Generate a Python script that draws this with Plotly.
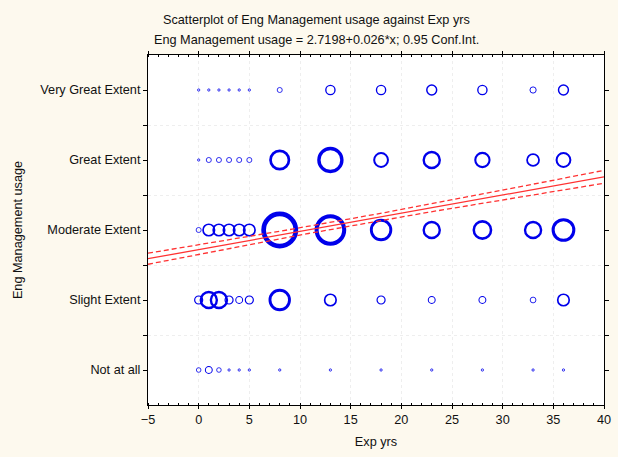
import numpy as np
import plotly.graph_objects as go

# ---- data ----
exp_yrs = [0, 1, 2, 3, 4, 5, 8, 13, 18, 23, 28, 33, 36]
categories = ["Not at all", "Slight Extent", "Moderate Extent", "Great Extent", "Very Great Extent"]
cat_codes = [1, 2, 3, 4, 5]

# estimated frequencies per (category, exp yrs) cell
freq_not_at_all = [2, 3, 2, 1, 1, 1, 1, 1, 1, 1, 1, 1, 1]
freq_slight     = [3.5, 7, 7, 3.5, 3, 3.5, 8.5, 5, 3.5, 3, 3, 2.5, 5]
freq_moderate   = [2.2, 5, 5, 5, 5, 5, 14, 12, 8.5, 7, 7.5, 7, 9]
freq_great      = [1, 2.2, 2.2, 2.2, 2.2, 2.2, 8, 10, 6, 7, 6.2, 5.2, 6]
freq_very_great = [1, 1, 1, 1, 1, 1, 2.2, 4, 4, 4.3, 4, 2.7, 4.3]

intercept = 2.7198
slope = 0.026
ci_xbar = 14.7
ci_a = 0.05
ci_b = 0.0031

x_range = [-5, 40]
x_ticks = [-5, 0, 5, 10, 15, 20, 25, 30, 35, 40]

# ---- build ----
freqs = [freq_not_at_all, freq_slight, freq_moderate, freq_great, freq_very_great]
xs, ys, fs = [], [], []
for code, row in zip(cat_codes, freqs):
    for x, f in zip(exp_yrs, row):
        xs.append(x)
        ys.append(code)
        fs.append(f)
fs = np.array(fs, dtype=float)
diam = 2.3 * fs
lw = np.maximum(0.8, diam / 6.8)

fig = go.Figure()

fig.add_trace(go.Scatter(
    x=xs, y=ys, mode="markers",
    marker=dict(symbol="circle", size=diam, color="rgba(0,0,0,0)", opacity=1,
                line=dict(color="rgb(0,0,235)", width=lw)),
    hoverinfo="skip", showlegend=False, cliponaxis=True,
))

xl = np.linspace(x_range[0], x_range[1], 200)
yl = intercept + slope * xl
hw = np.sqrt(ci_a ** 2 + (ci_b * (xl - ci_xbar)) ** 2)
red = "rgb(255,50,50)"
fig.add_trace(go.Scatter(x=xl, y=yl, mode="lines", line=dict(color=red, width=1.3),
                         hoverinfo="skip", showlegend=False))
fig.add_trace(go.Scatter(x=xl, y=yl + hw, mode="lines", line=dict(color=red, width=1.3, dash="5px,3px"),
                         hoverinfo="skip", showlegend=False))
fig.add_trace(go.Scatter(x=xl, y=yl - hw, mode="lines", line=dict(color=red, width=1.3, dash="5px,3px"),
                         hoverinfo="skip", showlegend=False))

font_family = "Liberation Sans, Arial, sans-serif"
fs_txt = 12.7
fig.update_layout(
    width=618, height=457,
    margin=dict(l=148, r=14, t=55, b=52),
    paper_bgcolor="rgb(253,249,238)",
    plot_bgcolor="white",
    font=dict(family=font_family, size=fs_txt, color="#111"),
    xaxis=dict(
        range=x_range, tickvals=x_ticks, ticks="outside", ticklen=3, tickcolor="black",
        showline=True, linecolor="black", linewidth=1, mirror="allticks",
        showgrid=True, gridcolor="rgb(238,238,238)", griddash="dot", gridwidth=1,
        zeroline=False, automargin=False,
        minor=dict(dtick=1, ticks="inside", ticklen=2, tickcolor="black", showgrid=False),
        title=dict(text="Exp yrs", standoff=10, font=dict(size=fs_txt)),
    ),
    yaxis=dict(
        range=[0.5, 5.5], tickvals=cat_codes, ticktext=categories,
        ticks="outside", ticklen=4, tickcolor="black",
        showline=True, linecolor="black", linewidth=1, mirror="allticks",
        showgrid=False, zeroline=False, automargin=False,
        minor=dict(tickvals=[1.5, 2.5, 3.5, 4.5], ticks="outside", ticklen=4, tickcolor="black",
                   showgrid=True, gridcolor="rgb(238,238,238)", griddash="dot"),
        title=dict(text="Eng Management usage", standoff=14, font=dict(size=fs_txt)),
    ),
    annotations=[
        dict(text="Scatterplot of Eng Management usage against Exp yrs", xref="paper", yref="paper",
             x=(316 - 148) / 456, y=(405 - 20) / 350, showarrow=False, xanchor="center", yanchor="middle",
             font=dict(size=fs_txt)),
        dict(text="Eng Management usage = 2.7198+0.026*x; 0.95 Conf.Int.", xref="paper", yref="paper",
             x=(316 - 148) / 456, y=(405 - 40) / 350, showarrow=False, xanchor="center", yanchor="middle",
             font=dict(size=fs_txt)),
    ],
)

fig.write_html("out.html", config={"displayModeBar": False},
               post_script="document.body.style.margin='0';document.body.style.background='rgb(253,249,238)';")
